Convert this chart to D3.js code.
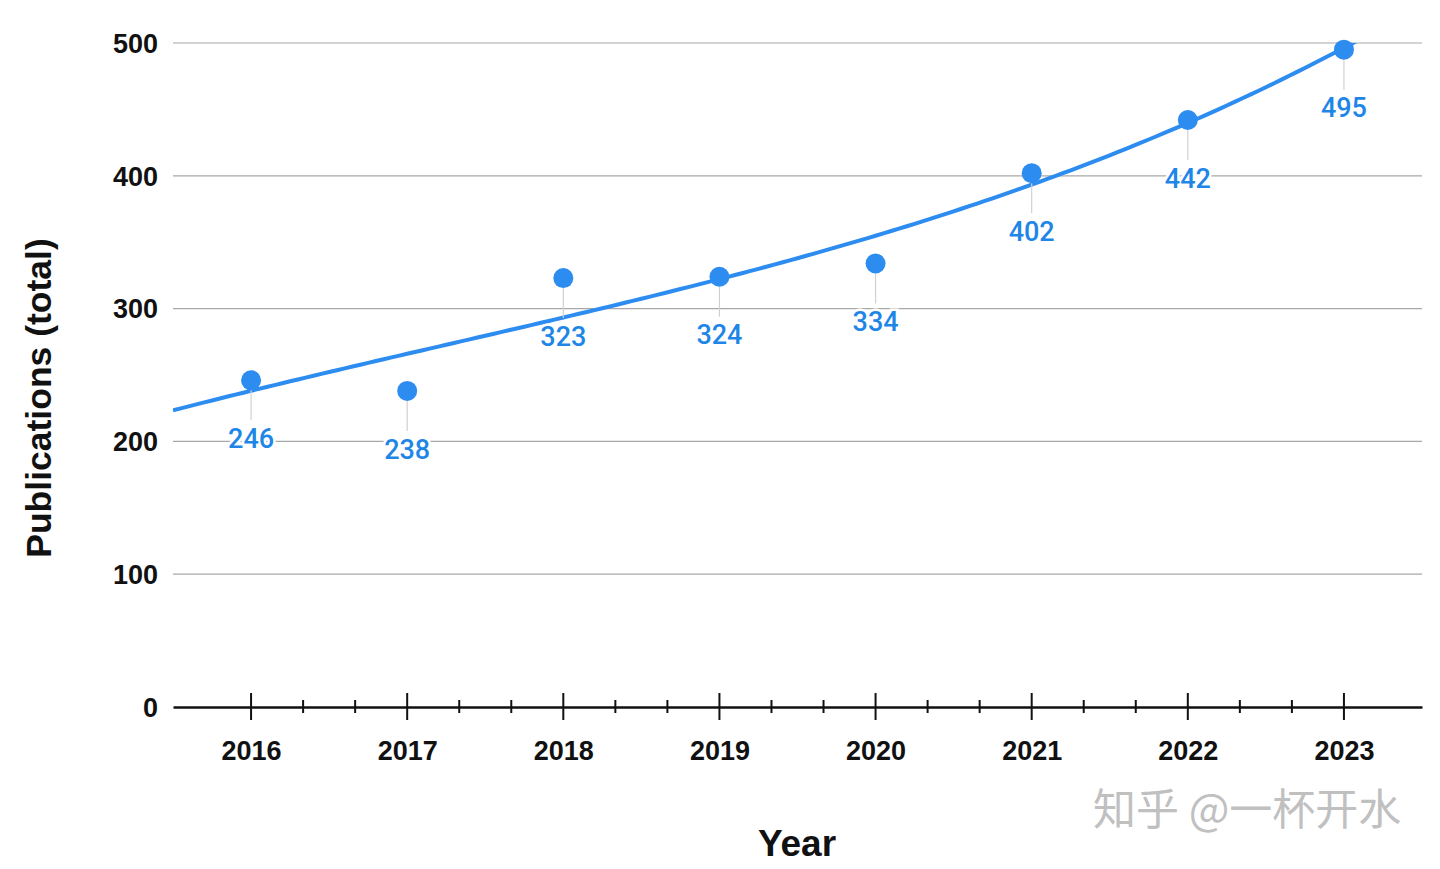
<!DOCTYPE html>
<html><head><meta charset="utf-8">
<script src="https://cdn.jsdelivr.net/npm/d3@7/dist/d3.min.js"></script>
<style>body{margin:0;background:#fff}svg{display:block}</style>
</head><body>
<script>
const years = [2016, 2017, 2018, 2019, 2020, 2021, 2022, 2023];
const publications = [246, 238, 323, 324, 334, 402, 442, 495];
const yTicks = [0, 100, 200, 300, 400, 500];
const xTitle = "Year";
const yTitle = "Publications (total)";
const watermark = "知乎 @一杯开水";

const W = 1440, H = 869;
const svg = d3.select("body").append("svg").attr("width", W).attr("height", H);
const x = d3.scaleLinear().domain([2015.5, 2023.5]).range([173, 1422]);
const y = d3.scaleLinear().domain([0, 500]).range([707, 43]);
const blue = "#2d8cf0", labelBlue = "#1e86e6";
const axisFont = "Liberation Sans, Arial, sans-serif";

// gridlines
svg.append("g").selectAll("line").data(yTicks.filter(d => d > 0)).join("line")
  .attr("x1", 173).attr("x2", 1422).attr("y1", d => y(d)).attr("y2", d => y(d))
  .attr("stroke", "#a8a8a8").attr("stroke-width", 1.2);

// y tick labels
svg.append("g").selectAll("text").data(yTicks).join("text")
  .attr("x", 158).attr("y", d => y(d)).attr("dy", "0.36em").attr("text-anchor", "end")
  .attr("font-family", axisFont).attr("font-weight", "bold")
  .attr("font-size", 27).attr("fill", "#111").text(d => d);

// x axis
const xAxis = d3.axisBottom(x).tickValues(years).tickFormat(d3.format("d")).tickSize(0);
const gx = svg.append("g").attr("transform", `translate(0,${y(0)})`).call(xAxis);
gx.select(".domain").attr("stroke", "#111").attr("stroke-width", 2.5);
gx.selectAll("text").attr("font-family", axisFont)
  .attr("font-weight", "bold").attr("font-size", 27).attr("fill", "#111")
  .attr("y", 43).attr("dy", "0.36em");
// major ticks
svg.append("g").selectAll("line").data(years).join("line")
  .attr("x1", d => x(d)).attr("x2", d => x(d)).attr("y1", y(0) - 14).attr("y2", y(0) + 13)
  .attr("stroke", "#111").attr("stroke-width", 2);
// minor ticks (thirds)
const minor = [];
years.slice(0, -1).forEach(yr => { minor.push(yr + 1/3, yr + 2/3); });
svg.append("g").selectAll("line").data(minor).join("line")
  .attr("x1", d => x(d)).attr("x2", d => x(d)).attr("y1", y(0) - 7).attr("y2", y(0) + 6)
  .attr("stroke", "#111").attr("stroke-width", 2);

// polynomial (cubic) least-squares trendline
function polyfit(xs, ys, deg) {
  const m = deg + 1;
  const A = d3.range(m).map(i => d3.range(m).map(j => d3.sum(xs, v => v ** (i + j))));
  const B = d3.range(m).map(i => d3.sum(xs.map((v, k) => v ** i * ys[k])));
  for (let c = 0; c < m; c++) {
    let p = c; for (let r = c + 1; r < m; r++) if (Math.abs(A[r][c]) > Math.abs(A[p][c])) p = r;
    [A[c], A[p]] = [A[p], A[c]]; [B[c], B[p]] = [B[p], B[c]];
    for (let r = 0; r < m; r++) if (r !== c) {
      const f = A[r][c] / A[c][c];
      for (let k = c; k < m; k++) A[r][k] -= f * A[c][k];
      B[r] -= f * B[c];
    }
  }
  return B.map((v, i) => v / A[i][i]);
}
const xs = years.map(d => d - 2019.5);
const coef = polyfit(xs, publications, 3);
const trend = d3.range(2015.5, 2023.51, 0.05)
  .map(t => [t, d3.sum(coef.map((c, i) => c * (t - 2019.5) ** i))]);
svg.append("clipPath").attr("id", "clip").append("rect")
  .attr("x", 173).attr("y", 43).attr("width", 1249).attr("height", 664);
svg.append("path").datum(trend).attr("clip-path", "url(#clip)")
  .attr("d", d3.line().x(d => x(d[0])).y(d => y(d[1])))
  .attr("fill", "none").attr("stroke", blue).attr("stroke-width", 4);

// leader lines
svg.append("g").selectAll("line").data(publications).join("line")
  .attr("x1", (d, i) => x(years[i])).attr("x2", (d, i) => x(years[i]))
  .attr("y1", d => y(d) + 10).attr("y2", d => y(d) + 40)
  .attr("stroke", "#d0d0d0").attr("stroke-width", 1.2);

// dots
svg.append("g").selectAll("circle").data(publications).join("circle")
  .attr("cx", (d, i) => x(years[i])).attr("cy", d => y(d)).attr("r", 10).attr("fill", blue);

// labels
svg.append("g").selectAll("text").data(publications).join("text")
  .attr("x", (d, i) => x(years[i])).attr("y", d => y(d) + 58).attr("dy", "0.36em")
  .attr("text-anchor", "middle").attr("font-family", "Roboto, Noto Sans, sans-serif")
  .attr("font-weight", 500).attr("font-size", 27).attr("fill", labelBlue)
  .attr("stroke", "#fff").attr("stroke-width", 5).attr("paint-order", "stroke")
  .text(d => d);

// axis titles
svg.append("text").attr("x", 797).attr("y", 843).attr("dy", "0.36em").attr("text-anchor", "middle")
  .attr("font-family", axisFont).attr("font-weight", "bold")
  .attr("font-size", 37).attr("fill", "#111").text(xTitle);
svg.append("text").attr("transform", "translate(38,398) rotate(-90)").attr("dy", "0.36em")
  .attr("text-anchor", "middle").attr("font-family", axisFont)
  .attr("font-weight", "bold").attr("font-size", 35.5).attr("fill", "#111").text(yTitle);

// watermark
svg.append("text").attr("x", 1093).attr("y", 810).attr("dy", "0.35em")
  .attr("font-family", "Noto Sans CJK SC, sans-serif").attr("font-size", 43)
  .attr("fill", "#c0c0c0").text(watermark);
</script>
</body></html>
